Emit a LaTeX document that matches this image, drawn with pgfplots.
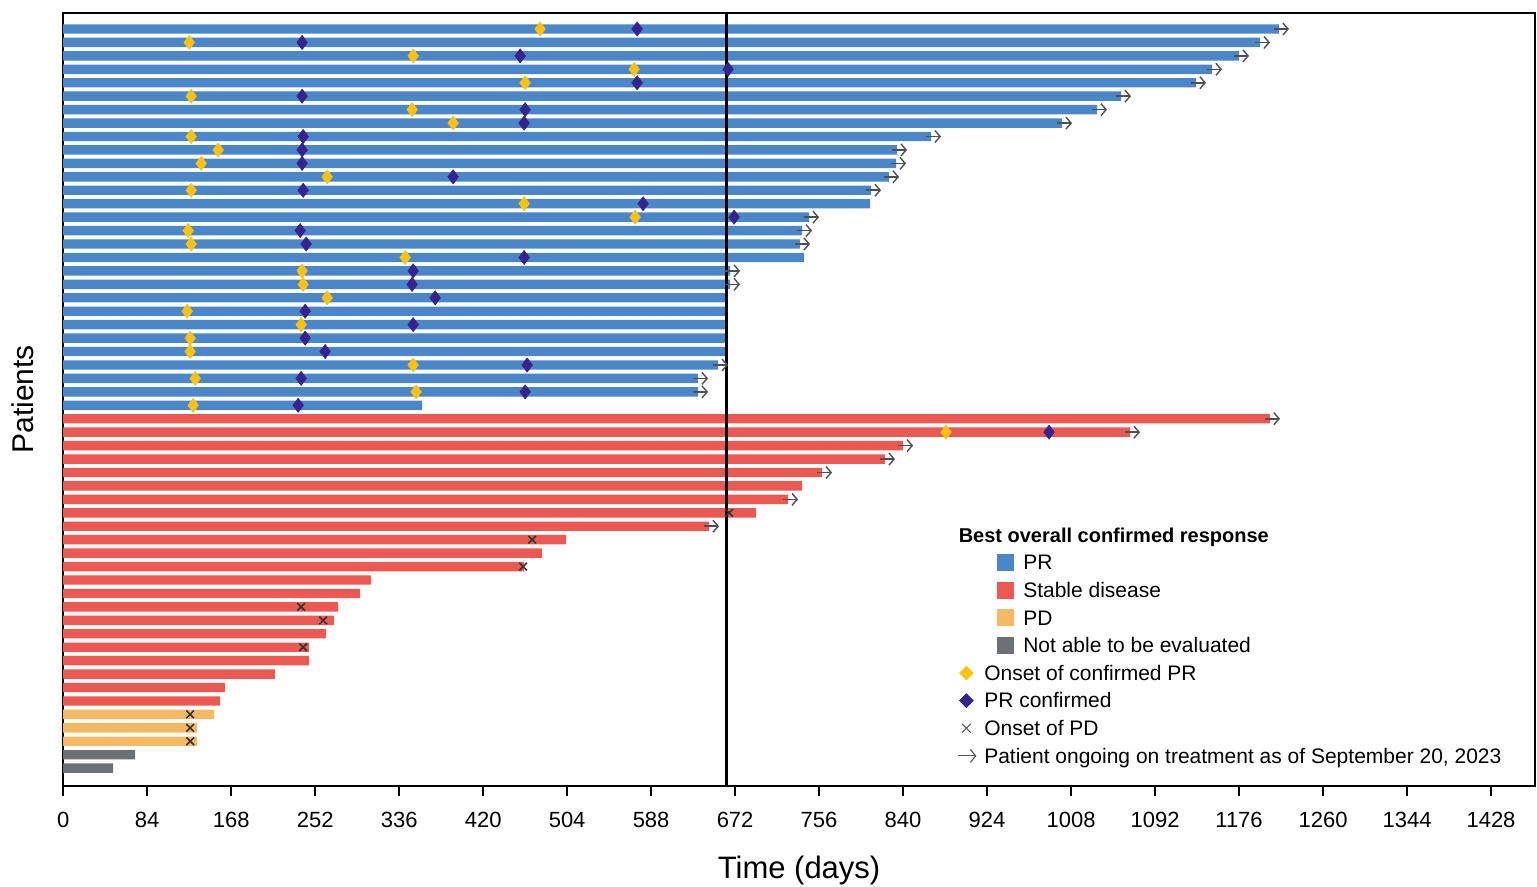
\documentclass[border=0pt]{standalone}
\usepackage{fontspec}
\setmainfont{Liberation Sans}
\usepackage{pgfplots}
\usepackage{pgfplotstable}
\pgfplotsset{compat=1.18}
\usetikzlibrary{arrows.meta}
\definecolor{cPR}{HTML}{4A86C8}
\definecolor{cSD}{HTML}{EC5852}
\definecolor{cPD}{HTML}{F5B865}
\definecolor{cNE}{HTML}{6D7074}
\definecolor{cOn}{HTML}{FFC20E}
\definecolor{cConf}{HTML}{35248F}
\definecolor{cArr}{HTML}{505050}

% best response bars: row, duration (days)
\pgfplotstableread{
r d
1 1216
2 1197
3 1176
4 1149
5 1133
6 1058
7 1034
8 999
9 868
10 834
11 833
12 826
13 808
14 807
15 746
16 739
17 737
18 741
19 667
20 667
21 663
22 663
23 663
24 663
25 663
26 655
27 635
28 635
29 359
}\tPR
\pgfplotstableread{
r d
30 1207
31 1067
32 840
33 822
34 759
35 739
36 725
37 693
38 646
39 503
40 479
41 461
42 308
43 297
44 275
45 271
46 263
47 246
48 246
49 212
50 162
51 157
}\tSD
\pgfplotstableread{
r d
52 151
53 134
54 134
}\tPD
\pgfplotstableread{
r d
55 72
56 50
}\tNE
% onset of confirmed PR
\pgfplotstableread{
r d
1 477
2 126
3 350
4 571
5 462
6 128
7 349
8 390
9 128
10 155
11 138
12 264
13 128
14 461
15 572
16 125
17 128
18 342
19 239
20 240
21 264
22 124
23 238
24 127
25 127
26 350
27 132
28 353
29 130
31 883
}\tOn
% PR confirmed
\pgfplotstableread{
r d
1 574
2 239
3 457
4 665
5 574
6 239
7 462
8 461
9 240
10 239
11 239
12 390
13 240
14 580
15 671
16 237
17 243
18 461
19 350
20 349
21 372
22 242
23 350
24 242
25 262
26 464
27 238
28 462
29 235
31 986
}\tConf
% onset of PD
\pgfplotstableread{
r d
37 666
39 469
41 460
44 238
45 260
47 240
52 127
53 127
54 127
}\tPDon
% ongoing (bar end)
\pgfplotstableread{
r d
1 1216
2 1197
3 1176
4 1149
5 1133
6 1058
7 1034
8 999
9 868
10 834
11 833
12 826
13 808
15 746
16 739
17 737
19 667
20 667
26 655
27 635
28 635
30 1207
31 1067
32 840
33 822
34 759
36 725
38 646
}\tOngo

\begin{document}
\begin{tikzpicture}
\begin{axis}[
  scale only axis, width=736bp, height=386.5bp,
  xmin=0, xmax=1472, ymin=-0.19, ymax=57.32, y dir=reverse,
  axis line style={line width=1bp, black},
  xtick={0,84,...,1428}, ytick=\empty,
  xtick pos=bottom, tick align=outside, major tick length=5bp,
  x tick style={line width=0.9bp, black},
  /pgf/number format/assume math mode=true,
  /pgf/number format/1000 sep={},
  xticklabel style={font=\fontsize{11bp}{13bp}\selectfont, anchor=base, yshift=-16bp},
  xlabel={Time (days)},
  xlabel style={font=\fontsize{15.5bp}{18bp}\selectfont, at={(axis description cs:0.5,0)}, anchor=base, yshift=-46.5bp, inner sep=0pt},
  ylabel={Patients},
  ylabel style={font=\fontsize{15bp}{18bp}\selectfont, at={(axis description cs:-0.0197,0.5)}, anchor=south, inner sep=0pt},
  legend style={at={(axis cs:894.7,37.8)}, anchor=north west, draw=none, fill=none,
    inner sep=0pt, outer sep=0pt, column sep=0pt, row sep=2.5bp,
    font=\fontsize{10.5bp}{12.6bp}\selectfont,
    nodes={inner xsep=0pt, inner ysep=0.5bp}},
  legend cell align=left,
]
\addplot[forget plot, xbar, bar width=0.7, bar shift=0pt, fill=cPR, draw=none] table[x=d, y=r] {\tPR};
\addplot[forget plot, xbar, bar width=0.7, bar shift=0pt, fill=cSD, draw=none] table[x=d, y=r] {\tSD};
\addplot[forget plot, xbar, bar width=0.7, bar shift=0pt, fill=cPD, draw=none] table[x=d, y=r] {\tPD};
\addplot[forget plot, xbar, bar width=0.7, bar shift=0pt, fill=cNE, draw=none] table[x=d, y=r] {\tNE};
\addplot[forget plot, black, line width=1.1bp] coordinates {(663.4,-0.19) (663.4,57.32)};
\addplot[forget plot, cArr, line width=0.8bp, -{Straight Barb[length=2.6bp, width=6bp, line width=0.7bp]}, quiver={u=15, v=0}] table[x expr=\thisrow{d}-5, y=r] {\tOngo};
\addplot[forget plot, only marks, mark=diamond*, mark size=3.6bp, mark options={fill=cOn, draw=cOn, line width=0.2bp}] table[x=d, y=r] {\tOn};
\addplot[forget plot, only marks, mark=diamond*, mark size=3.6bp, mark options={fill=cConf, draw=cConf, line width=0.2bp}] table[x=d, y=r] {\tConf};
\addplot[forget plot, only marks, mark=x, mark size=2.7bp, mark options={draw=black!80, line width=0.8bp}] table[x=d, y=r] {\tPDon};

\addlegendimage{empty legend}
\addlegendentry{\strut\hspace*{-27.5bp}\fontsize{10bp}{12.6bp}\selectfont\bfseries Best overall confirmed response}
\addlegendimage{legend image code/.code={\fill[cPR] (19.5bp,-4bp) rectangle (27.5bp,4bp);}}
\addlegendentry{\strut\hspace*{4.75bp}PR}
\addlegendimage{legend image code/.code={\fill[cSD] (19.5bp,-4bp) rectangle (27.5bp,4bp);}}
\addlegendentry{\strut\hspace*{4.75bp}Stable disease}
\addlegendimage{legend image code/.code={\fill[cPD] (19.5bp,-4bp) rectangle (27.5bp,4bp);}}
\addlegendentry{\strut\hspace*{4.75bp}PD}
\addlegendimage{legend image code/.code={\fill[cNE] (19.5bp,-4bp) rectangle (27.5bp,4bp);}}
\addlegendentry{\strut\hspace*{4.75bp}Not able to be evaluated}
\addlegendimage{legend image code/.code={\fill[cOn] (4bp,3.4bp) -- (7.4bp,0bp) -- (4bp,-3.4bp) -- (0.6bp,0bp) -- cycle;}}
\addlegendentry{\strut\hspace*{-14.75bp}Onset of confirmed PR}
\addlegendimage{legend image code/.code={\fill[cConf] (4bp,3.4bp) -- (7.4bp,0bp) -- (4bp,-3.4bp) -- (0.6bp,0bp) -- cycle;}}
\addlegendentry{\strut\hspace*{-14.75bp}PR confirmed}
\addlegendimage{legend image code/.code={\draw[black!65, line width=0.6bp] (1.8bp,-2.2bp) -- (6.2bp,2.2bp) (1.8bp,2.2bp) -- (6.2bp,-2.2bp);}}
\addlegendentry{\strut\hspace*{-14.75bp}Onset of PD}
\addlegendimage{legend image code/.code={\draw[black!65, line width=0.6bp, -{Straight Barb[length=2.6bp, width=6.5bp, line width=0.6bp]}] (0bp,0bp) -- (9bp,0bp);}}
\addlegendentry{\strut\hspace*{-14.75bp}Patient ongoing on treatment as of September 20, 2023}
\end{axis}
\pgfresetboundingbox
\path[use as bounding box] ([xshift=-31.6bp, yshift=-50.2bp]current axis.south west) rectangle ([xshift=1bp, yshift=6.5bp]current axis.north east);
\end{tikzpicture}
\end{document}
